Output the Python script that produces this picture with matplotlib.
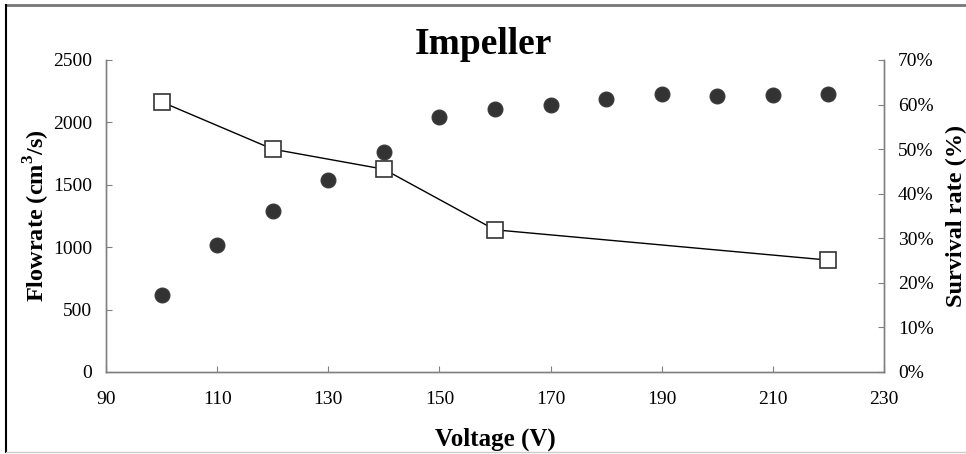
import matplotlib
matplotlib.use("Agg")
import matplotlib.pyplot as plt
from matplotlib.ticker import PercentFormatter
from matplotlib.lines import Line2D

# Dados
voltagem_vazao = [100, 110, 120, 130, 140, 150, 160, 170, 180, 190, 200, 210, 220]
vazao = [620, 1020, 1290, 1540, 1760, 2045, 2110, 2140, 2190, 2225, 2215, 2220, 2230]

voltagem_sobrev = [100, 120, 140, 160, 220]
sobrevivencia = [60.6, 50.0, 45.5, 31.9, 25.1]

xticks = [90, 110, 130, 150, 170, 190, 210, 230]

plt.rcParams['font.family'] = ['Liberation Serif', 'DejaVu Serif']
plt.rcParams['mathtext.fontset'] = 'custom'
plt.rcParams['mathtext.rm'] = 'Liberation Serif'
plt.rcParams['mathtext.bf'] = 'Liberation Serif:bold'

fig = plt.figure(figsize=(9.66, 4.54), dpi=100)
ax = fig.add_axes([106/966, 1 - 372/454, (884-106)/966, (372-60)/454])
ax2 = ax.twinx()

# Vazão (eixo esquerdo)
ax.plot(voltagem_vazao, vazao, linestyle='none', marker='o', markersize=10.5,
        markerfacecolor='#333333', markeredgecolor='#3a3a3a', zorder=3)
ax.set_xlim(90, 230)
ax.set_ylim(0, 2500)
ax.set_xticks(xticks)
ax.set_yticks(range(0, 2501, 500))

# Sobrevivência (eixo direito)
ax2.plot(voltagem_sobrev, sobrevivencia, color='black', linewidth=1.0,
         marker='s', markersize=12, markerfacecolor='white',
         markeredgecolor='#333333', markeredgewidth=1.2)
ax2.set_ylim(0, 70)
ax2.set_yticks(range(0, 71, 10))
ax2.yaxis.set_major_formatter(PercentFormatter(decimals=0))

cinza = '#808080'
for a in (ax, ax2):
    a.spines['top'].set_visible(False)
    for s in ('left', 'right', 'bottom'):
        a.spines[s].set_color(cinza)
        a.spines[s].set_linewidth(1.0)
    a.tick_params(direction='in', length=4, color=cinza, labelsize=14)

ax.tick_params(axis='y', pad=10)
ax.tick_params(axis='x', pad=14)
ax2.tick_params(axis='y', pad=10)

ax.set_xlabel('Voltage (V)', fontsize=18, fontweight='bold', labelpad=14)
ax.set_ylabel(r'Flowrate (cm$^{\mathbf{3}}$/s)', fontsize=17.5, fontweight='bold', labelpad=1)
ax2.set_ylabel('Survival rate (%)', fontsize=17.5, fontweight='bold', labelpad=9)
fig.text(483/966, 1 - 44/454, 'Impeller', ha='center', va='center',
         fontsize=27, fontweight='bold')

# Moldura em volta do gráfico
fig.add_artist(Line2D([6/966, 966/966], [1 - 5/454, 1 - 5/454], color='#777777', linewidth=2))
fig.add_artist(Line2D([6/966, 6/966], [1 - 5/454, 1 - 452/454], color='black', linewidth=1.5))
fig.add_artist(Line2D([6/966, 966/966], [1 - 452/454, 1 - 452/454], color='#cccccc', linewidth=1))

fig.savefig('out.png', dpi=100)
